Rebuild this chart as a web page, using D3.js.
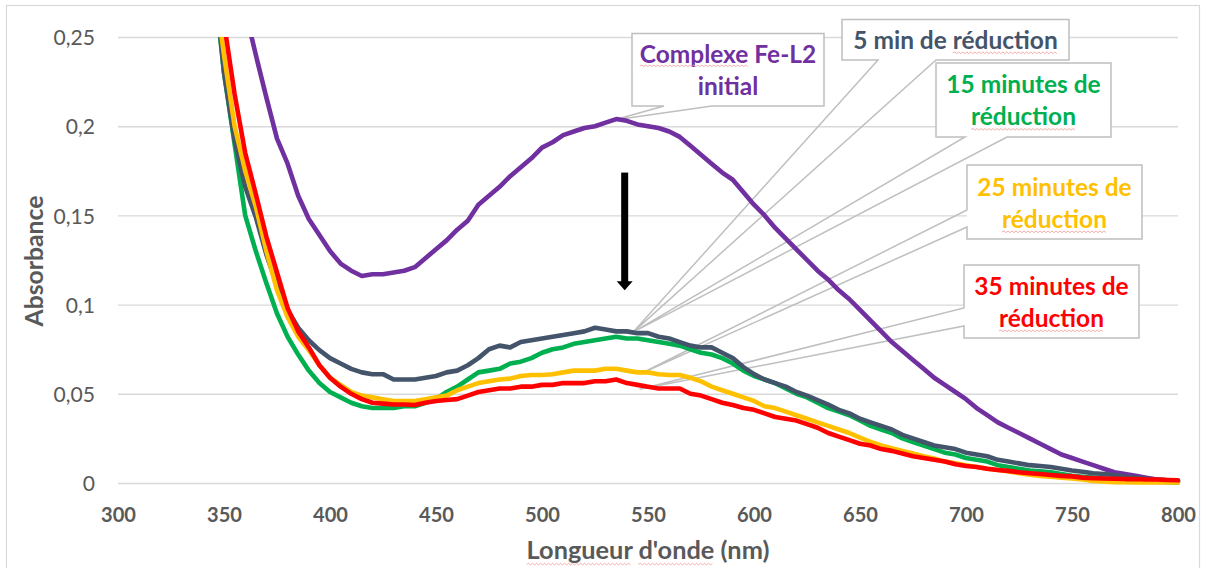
<!DOCTYPE html>
<html>
<head>
<meta charset="utf-8">
<script src="https://cdn.jsdelivr.net/npm/d3@7"></script>
<style>
  html, body { margin: 0; padding: 0; background: #ffffff; }
  svg { display: block; font-family: Lato, "Open Sans", "Noto Sans", sans-serif; }
</style>
</head>
<body>
<svg id="chart" width="1206" height="568"></svg>
<script>
// ---------------- DATA ----------------
const wavelengths = [345,350,355,360,365,370,375,380,385,390,395,400,405,410,415,420,425,430,435,440,
  445,450,455,460,465,470,475,480,485,490,495,500,505,510,515,520,525,530,535,540,
  545,550,555,560,565,570,575,580,585,590,595,600,605,610,615,620,625,630,635,640,
  645,650,655,660,665,670,675,680,685,690,695,700,705,710,715,720,725,730,735,740,
  745,750,755,760,765,770,775,780,785,790,795,800];

const complexeInitial = [0.350,0.320,0.290,0.265,0.240,0.216,0.193,0.179,0.161,0.148,0.139,0.130,0.123,0.119,0.116,0.117,0.117,0.118,0.119,0.121,
  0.126,0.131,0.136,0.142,0.147,0.156,0.161,0.166,0.172,0.177,0.182,0.188,0.191,0.195,0.197,0.199,0.200,0.202,0.204,0.203,
  0.201,0.200,0.199,0.197,0.194,0.189,0.184,0.179,0.174,0.170,0.163,0.156,0.150,0.143,0.137,0.131,0.125,0.119,0.114,0.108,
  0.103,0.097,0.091,0.085,0.079,0.074,0.069,0.064,0.059,0.055,0.051,0.047,0.042,0.038,0.034,0.031,0.028,0.025,0.022,0.019,
  0.016,0.014,0.012,0.010,0.008,0.006,0.005,0.004,0.003,0.002,0.0015,0.001];

const reduction5min = [0.290,0.230,0.192,0.166,0.149,0.128,0.111,0.097,0.087,0.080,0.0745,0.070,0.067,0.064,0.062,0.061,0.061,0.058,0.058,0.058,
  0.059,0.060,0.062,0.063,0.066,0.070,0.075,0.077,0.076,0.079,0.080,0.081,0.082,0.083,0.084,0.085,0.087,0.086,0.085,0.085,
  0.084,0.084,0.082,0.081,0.079,0.077,0.076,0.076,0.073,0.070,0.065,0.061,0.058,0.056,0.054,0.051,0.049,0.0465,0.044,0.041,
  0.039,0.036,0.034,0.032,0.030,0.027,0.025,0.023,0.021,0.020,0.019,0.017,0.016,0.015,0.013,0.012,0.011,0.010,0.0095,0.009,
  0.008,0.007,0.0063,0.0055,0.005,0.0045,0.0035,0.003,0.0024,0.002,0.0015,0.001];

const reduction15min = [0.285,0.230,0.190,0.150,0.130,0.112,0.095,0.082,0.072,0.063,0.056,0.051,0.048,0.045,0.043,0.042,0.042,0.042,0.043,0.043,
  0.045,0.047,0.051,0.054,0.058,0.062,0.063,0.064,0.067,0.068,0.070,0.073,0.075,0.076,0.078,0.079,0.080,0.081,0.082,0.081,
  0.081,0.080,0.079,0.078,0.077,0.075,0.073,0.072,0.070,0.067,0.063,0.060,0.058,0.056,0.053,0.050,0.048,0.045,0.042,0.040,
  0.038,0.035,0.032,0.030,0.028,0.025,0.023,0.021,0.019,0.017,0.016,0.014,0.013,0.012,0.010,0.009,0.008,0.007,0.0065,0.006,
  0.005,0.004,0.0035,0.003,0.0025,0.002,0.0015,0.001,0.001,0.0008,0.0005,0.0003];

const reduction25min = [0.285,0.240,0.200,0.175,0.155,0.130,0.108,0.093,0.082,0.0745,0.066,0.059,0.055,0.051,0.049,0.048,0.047,0.046,0.046,0.046,
  0.047,0.048,0.049,0.052,0.054,0.056,0.057,0.058,0.0585,0.060,0.0605,0.0605,0.061,0.062,0.063,0.063,0.063,0.064,0.064,0.063,
  0.062,0.062,0.061,0.0605,0.0605,0.059,0.057,0.054,0.052,0.050,0.048,0.046,0.043,0.042,0.040,0.038,0.036,0.034,0.032,0.030,
  0.028,0.0255,0.023,0.021,0.0195,0.018,0.0165,0.015,0.0138,0.012,0.011,0.010,0.009,0.008,0.0073,0.0065,0.0055,0.0047,0.004,0.0035,
  0.003,0.0025,0.002,0.0012,0.0008,0.0005,0.0004,0.0003,0.0003,0.0003,0.0003,0.0003];

const reduction35min = [0.310,0.258,0.218,0.185,0.162,0.138,0.118,0.098,0.085,0.076,0.066,0.059,0.054,0.050,0.047,0.045,0.0445,0.044,0.044,0.0437,
  0.045,0.046,0.0465,0.047,0.049,0.051,0.052,0.053,0.053,0.054,0.054,0.055,0.055,0.056,0.056,0.056,0.057,0.057,0.058,0.056,
  0.055,0.054,0.053,0.053,0.053,0.050,0.049,0.047,0.045,0.0437,0.042,0.041,0.039,0.037,0.036,0.035,0.033,0.031,0.028,0.026,
  0.024,0.022,0.021,0.019,0.018,0.0165,0.015,0.014,0.013,0.012,0.0105,0.0095,0.009,0.008,0.0073,0.0068,0.006,0.0055,0.005,0.0045,
  0.004,0.0037,0.003,0.0027,0.0025,0.0024,0.0022,0.0022,0.002,0.002,0.0017,0.0015];

const xTickValues = [300,350,400,450,500,550,600,650,700,750,800];
const yTickValues = [0,0.05,0.1,0.15,0.2,0.25];

const seriesLabels = [["Complexe Fe-L2","initial"],["5 min de réduction"],["15 minutes de","réduction"],["25 minutes de","réduction"],["35 minutes de","réduction"]];
const calloutAnchorNm  = [534, 543, 543, 547, 546];
const calloutAnchorAbs = [0.2035, 0.0846, 0.0846, 0.0615, 0.0525];

const arrowNm = 539, arrowFrom = 0.174, arrowTo = 0.108;

const xTitle = "Longueur d'onde (nm)";
const yTitle = "Absorbance";

// ---------------- STYLE / LAYOUT ----------------
const seriesColors = ["#7030A0", "#44546A", "#00B050", "#FFC000", "#FF0000"];
const drawOrder = [0, 2, 1, 3, 4];
const seriesData = [complexeInitial, reduction5min, reduction15min, reduction25min, reduction35min];

const plot = { left: 118, right: 1178, top: 37, bottom: 483 };
const svg = d3.select("#chart");
const x = d3.scaleLinear().domain([300, 800]).range([plot.left, plot.right]);
const y = d3.scaleLinear().domain([0, 0.25]).range([plot.bottom, plot.top]);

const frLocale = d3.formatLocale({ decimal: ",", thousands: " ", grouping: [3], currency: ["", " €"] });
const fmt = frLocale.format("~g");

function fitSize(textSel, target, base) {
  const w = textSel.node().getComputedTextLength();
  return base * target / w;
}

// spell-check style wavy underline under a word of a text element
const squiggleG = () => svg.append("g");
function squiggle(g, textSel, word, offset) {
  const node = textSel.node();
  const str = node.textContent;
  const idx = str.indexOf(word);
  if (idx < 0) return;
  const p0 = node.getStartPositionOfChar(idx);
  const p1 = node.getEndPositionOfChar(idx + word.length - 1);
  const yb = p0.y + offset;
  let d = `M${p0.x},${yb}`;
  let up = true;
  for (let xx = p0.x + 2; xx <= p1.x; xx += 2) {
    d += `L${xx},${yb + (up ? -0.8 : 0.8)}`;
    up = !up;
  }
  g.append("path").attr("d", d).attr("fill", "none").attr("stroke", "#F2A3A3").attr("stroke-width", 0.9);
}

// chart frame
svg.append("rect").attr("x", 6.5).attr("y", 5.5).attr("width", 1193).attr("height", 600)
  .attr("fill", "#fff").attr("stroke", "#D9D9D9").attr("stroke-width", 1.2);

// Y axis with gridlines
const yAxisG = svg.append("g").attr("transform", `translate(${plot.left},0)`)
  .call(d3.axisLeft(y).tickValues(yTickValues).tickSize(-(plot.right - plot.left)).tickPadding(23).tickFormat(fmt));
yAxisG.select(".domain").remove();
yAxisG.selectAll(".tick line").attr("stroke", "#D9D9D9").attr("stroke-width", 1.4);
yAxisG.selectAll(".tick text").attr("fill", "#595959").attr("font-family", "Lato").attr("font-size", 20).attr("dy", "0.36em");
{
  const t = yAxisG.selectAll(".tick text").filter(d => d === 0.25);
  const s = fitSize(t, 41.5, 20);
  yAxisG.selectAll(".tick text").attr("font-size", s);
}

// X axis labels
const xAxisG = svg.append("g").attr("transform", `translate(0,${plot.bottom})`)
  .call(d3.axisBottom(x).tickValues(xTickValues).tickSize(0).tickFormat(d3.format("d")));
xAxisG.select(".domain").remove();
xAxisG.selectAll(".tick text").attr("fill", "#595959").attr("font-family", "Lato").attr("font-weight", "bold")
  .attr("font-size", 20).attr("y", 32).attr("dy", "0.36em");
{
  const t = xAxisG.selectAll(".tick text").filter(d => d === 300);
  const s = fitSize(t, 35, 20);
  xAxisG.selectAll(".tick text").attr("font-size", s);
}

// Axis titles
const xt = svg.append("text").attr("x", (plot.left + plot.right) / 2).attr("y", 550).attr("dy", "0.36em")
  .attr("text-anchor", "middle").attr("fill", "#595959").attr("font-weight", "bold").attr("font-size", 22).text(xTitle);
xt.attr("font-size", fitSize(xt, 243, 22));
const yt = svg.append("text").attr("transform", "translate(34,261) rotate(-90)").attr("dy", "0.36em")
  .attr("text-anchor", "middle").attr("fill", "#595959").attr("font-weight", "bold").attr("font-size", 22).text(yTitle);
yt.attr("font-size", fitSize(yt, 131, 22));
const sqG = squiggleG();
squiggle(sqG, xt, "Longueur", 5);
squiggle(sqG, xt, "d'onde", 5);

// Callouts (boxes with wedge pointers)
const boxes = [
  { x0: 632, y0: 33.5, x1: 824, y1: 106, side: "bottom", a: 664, b: 712, cy: 70, tw: 171 },
  { x0: 842, y0: 19.5, x1: 1069, y1: 60, side: "bottom", a: 878, b: 936, cy: 40, tw: 207 },
  { x0: 936, y0: 63, x1: 1111, y1: 137, side: "bottom", a: 965, b: 1007, cy: 100.5, tw: 155 },
  { x0: 967, y0: 165, x1: 1142, y1: 239, side: "left", a: 210, b: 227, cy: 203, tw: 155 },
  { x0: 964, y0: 265, x1: 1139, y1: 338, side: "left", a: 308, b: 326, cy: 302, tw: 156 }
];
const calloutG = svg.append("g");
const sizes = [];
boxes.forEach((b, i) => {
  const t = calloutG.append("text").attr("font-weight", "bold").attr("font-size", 22).text(seriesLabels[i][0]);
  sizes.push(fitSize(t, b.tw, 22));
  t.remove();
});
const calloutSize = d3.mean(sizes);

boxes.forEach((b, i) => {
  const tx = x(calloutAnchorNm[i]), ty = y(calloutAnchorAbs[i]);
  let p;
  if (b.side === "bottom") {
    p = `M${b.x0},${b.y0}H${b.x1}V${b.y1}H${b.b}L${tx},${ty}L${b.a},${b.y1}H${b.x0}Z`;
  } else {
    p = `M${b.x0},${b.y0}H${b.x1}V${b.y1}H${b.x0}V${b.b}L${tx},${ty}L${b.x0},${b.a}Z`;
  }
  calloutG.append("rect").attr("x", b.x0).attr("y", b.y0).attr("width", b.x1 - b.x0).attr("height", b.y1 - b.y0).attr("fill", "#fff");
  calloutG.append("path").attr("d", p).attr("fill", "none").attr("stroke", "#BFBFBF").attr("stroke-width", 1.5).attr("stroke-linejoin", "miter");
  const lines = seriesLabels[i];
  const lh = 32;
  lines.forEach((ln, k) => {
    const t = calloutG.append("text")
      .attr("x", (b.x0 + b.x1) / 2)
      .attr("y", b.cy + (k - (lines.length - 1) / 2) * lh)
      .attr("dy", "0.36em")
      .attr("text-anchor", "middle")
      .attr("font-weight", "bold")
      .attr("font-size", calloutSize)
      .attr("fill", seriesColors[i])
      .text(ln);
    squiggle(calloutG, t, "Complexe", 3);
    squiggle(calloutG, t, "réduction", 4);
  });
});

// Series
svg.append("clipPath").attr("id", "plotClip").append("rect")
  .attr("x", plot.left - 5).attr("y", plot.top).attr("width", plot.right - plot.left + 10).attr("height", plot.bottom - plot.top + 10);
const line = d3.line().x((d, i) => x(wavelengths[i])).y(d => y(d));
const seriesG = svg.append("g").attr("clip-path", "url(#plotClip)");
drawOrder.forEach(i => {
  seriesG.append("path").datum(seriesData[i]).attr("d", line)
    .attr("fill", "none").attr("stroke", seriesColors[i]).attr("stroke-width", 4.6)
    .attr("stroke-linejoin", "round").attr("stroke-linecap", "round");
});

// Arrow
const ax = x(arrowNm), ay0 = y(arrowFrom), ay1 = y(arrowTo);
svg.append("rect").attr("x", ax - 3.5).attr("y", ay0).attr("width", 7).attr("height", ay1 - ay0 - 8).attr("fill", "#000");
svg.append("path").attr("d", `M${ax - 8},${ay1 - 9}L${ax + 8},${ay1 - 9}L${ax},${ay1}Z`).attr("fill", "#000");
</script>
</body>
</html>
